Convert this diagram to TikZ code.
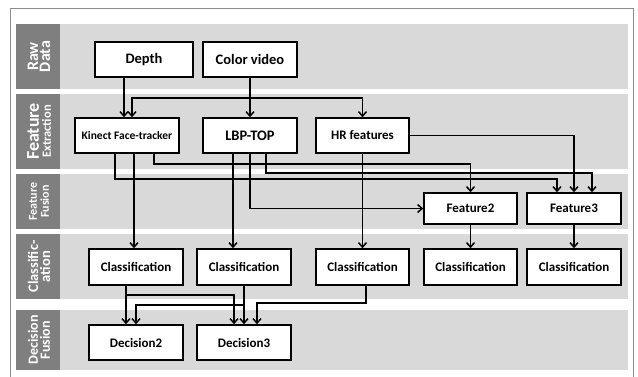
\documentclass[tikz,border=0pt]{standalone}
\usepackage{fontspec}
\setmainfont{Carlito}
\usetikzlibrary{arrows.meta}
\definecolor{bandgray}{HTML}{D9D9D9}
\definecolor{labgray}{HTML}{7F7F7F}
\definecolor{framegray}{HTML}{8C8C8C}
\begin{document}
\begin{tikzpicture}[x=1pt,y=-1pt,
  band/.style={fill=bandgray,draw=none},
  lab/.style={fill=labgray,draw=none},
  labtext/.style={rotate=90,text=white,font=\bfseries,align=center,inner sep=0pt},
  box/.style={draw=black,line width=1.6pt,fill=white,font=\bfseries,inner sep=0pt,align=center},
  bigbox/.style={box,minimum height=35pt,font=\bfseries\fontsize{14.5}{16}\selectfont},
  midbox/.style={box,minimum height=35pt,font=\bfseries\fontsize{13}{15}\selectfont},
  conn/.style={line width=1.5pt,-{Straight Barb[length=4.5pt,width=8pt,line width=1.5pt]}},
  plain/.style={line width=1.5pt}]
\useasboundingbox (0,0) rectangle (638,376);
% frame
\draw[framegray,line width=1pt] (10,377) -- (10,8) -- (633,8) -- (633,377);
% bands
\fill[band] (16,24) rectangle (628,89);
\fill[band] (16,94) rectangle (628,169);
\fill[band] (16,174) rectangle (628,229);
\fill[band] (16,234) rectangle (628,299);
\fill[band] (16,310) rectangle (628,370);
\fill[lab] (16,24) rectangle (60,89);
\fill[lab] (16,94) rectangle (60,169);
\fill[lab] (16,174) rectangle (60,229);
\fill[lab] (16,234) rectangle (60,299);
\fill[lab] (16,310) rectangle (60,370);
\node[labtext] (l1) at (39,56.5) {\fontsize{16}{17}\selectfont Raw\\\fontsize{16}{17}\selectfont Data};
\node[labtext] (l2) at (39,131.5) {\fontsize{18}{17}\selectfont Feature\\\fontsize{12.5}{14}\selectfont Extraction};
\node[labtext] (l3) at (39,201.5) {\fontsize{12}{13}\selectfont Feature\\\fontsize{12}{13}\selectfont Fusion};
\node[labtext] (l4) at (39,266.5) {\fontsize{14.5}{16}\selectfont Classific-\\\fontsize{14.5}{16}\selectfont ation};
\node[labtext] (l5) at (39,340) {\fontsize{14}{15}\selectfont Decision\\\fontsize{14}{15}\selectfont Fusion};
% nodes
\node[bigbox,minimum width=98pt] (depth) at (144,59.5) {Depth};
\node[bigbox,minimum width=94pt] (color) at (250,59.5) {Color video};
\node[box,minimum width=104pt,minimum height=35pt,font=\bfseries\fontsize{11.5}{13}\selectfont] (kinect) at (127,135.5) {Kinect Face-tracker};
\node[bigbox,minimum width=94pt] (lbp) at (250,135.5) {LBP-TOP};
\node[midbox,minimum width=93pt] (hr) at (362.5,135.5) {HR features};
\node[midbox,minimum width=93pt,minimum height=31pt] (feat2) at (470.5,208.5) {Feature2};
\node[midbox,minimum width=94pt,minimum height=31pt] (feat3) at (574,208.5) {Feature3};
\node[midbox,minimum width=94pt,minimum height=36pt] (cls1) at (136,267) {Classification};
\node[midbox,minimum width=94pt,minimum height=36pt] (cls2) at (244,267) {Classification};
\node[midbox,minimum width=93pt,minimum height=36pt] (cls3) at (362.5,267) {Classification};
\node[midbox,minimum width=93pt,minimum height=36pt] (cls4) at (470.5,267) {Classification};
\node[midbox,minimum width=94pt,minimum height=36pt] (cls5) at (574,267) {Classification};
\node[midbox,minimum width=94pt] (dec2) at (136,342.5) {Decision2};
\node[midbox,minimum width=94pt] (dec3) at (244,342.5) {Decision3};
% helper coordinates
\coordinate (x115) at (115,0);
\coordinate (x124) at (124,0);
\coordinate (x126) at (126,0);
\coordinate (x132) at (132,0);
\coordinate (x134) at (134,0);
\coordinate (x154) at (154,0);
\coordinate (x233) at (233,0);
\coordinate (x234) at (234,0);
\coordinate (x257) at (257,0);
\coordinate (x266) at (266,0);
\coordinate (x366) at (366,0);
\coordinate (x557) at (557,0);
\coordinate (x592) at (592,0);
\coordinate (y98) at (0,98);
\coordinate (y164) at (0,164);
\coordinate (y173) at (0,173);
\coordinate (y179) at (0,179);
\coordinate (y295) at (0,295);
\coordinate (y303) at (0,303);
\coordinate (y305) at (0,305);
\coordinate (j1) at (color.south |- y98);
% connectors
\draw[conn] (depth.south -| x124) -- (kinect.north -| x124);
\draw[conn] (color.south) -- (lbp.north);
\draw[conn] (j1) -| (kinect.north -| x132);
\draw[conn] (j1) -| (hr.north);
\draw[conn] (kinect.south -| x134) -- (cls1.north -| x134);
\draw[conn] (kinect.south -| x154) |- (feat2.north |- y164) -- (feat2.north);
\draw[conn] (kinect.south -| x115) |- (x557 |- y179) -- (feat3.north -| x557);
\draw[conn] (lbp.south -| x233) -- (cls2.north -| x233);
\draw[conn] (lbp.south) |- (feat2.west);
\draw[conn] (lbp.south -| x266) |- (x592 |- y173) -- (feat3.north -| x592);
\draw[conn] (hr.south) -- (cls3.north);
\draw[conn] (hr.east) -| (feat3.north);
\draw[conn] (feat2.south) -- (cls4.north);
\draw[conn] (feat3.south) -- (cls5.north);
\draw[conn] (cls1.south -| x126) -- (dec2.north -| x126);
\draw[conn] (x126 |- y295) -| (dec3.north -| x234);
\draw[conn] (cls2.south) -- (dec3.north);
\draw[conn] (cls2.south |- y305) -| (dec2.north);
\draw[conn] (cls3.south -| x366) |- (x257 |- y303) -- (dec3.north -| x257);
\end{tikzpicture}
\end{document}
